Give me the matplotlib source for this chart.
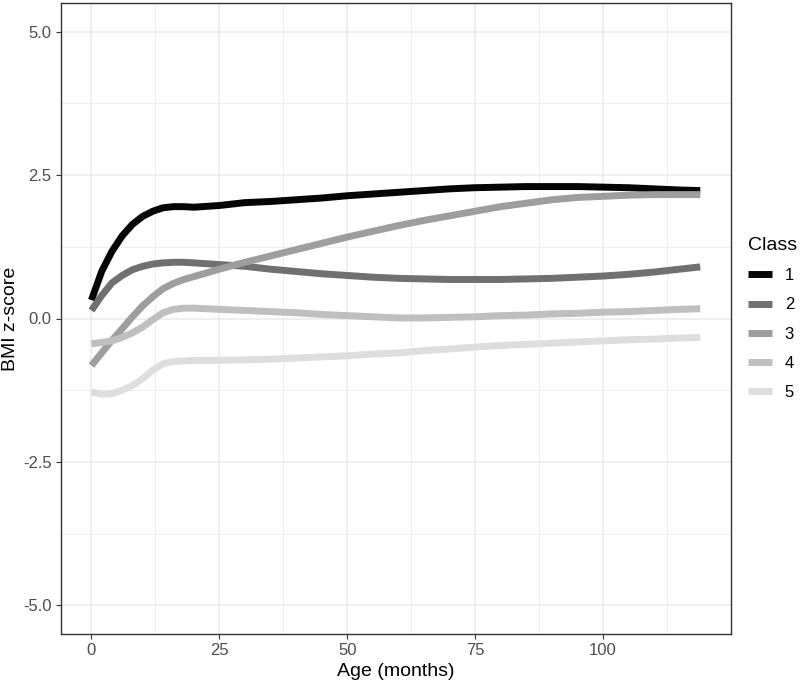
import numpy as np
import matplotlib
matplotlib.use("Agg")
import matplotlib.pyplot as plt

plt.rcParams["font.family"] = ["Liberation Sans", "DejaVu Sans"]

# Trajectory data (BMI z-score by age, 5 latent classes)
age = [0, 2, 4, 6, 8, 10, 12, 14, 16, 18, 20, 25, 30, 35, 40, 45, 50, 55, 60,
       65, 70, 75, 80, 85, 90, 95, 100, 105, 110, 115, 119]

class_1 = [0.32, 0.82, 1.17, 1.44, 1.64, 1.78, 1.87, 1.93, 1.95, 1.95, 1.94, 1.97,
           2.02, 2.04, 2.07, 2.10, 2.14, 2.17, 2.20, 2.23, 2.26, 2.28, 2.29, 2.30,
           2.30, 2.30, 2.29, 2.28, 2.26, 2.24, 2.23]
class_2 = [0.14, 0.40, 0.62, 0.75, 0.85, 0.91, 0.95, 0.97, 0.98, 0.98, 0.97, 0.94,
           0.91, 0.86, 0.82, 0.78, 0.75, 0.72, 0.70, 0.69, 0.68, 0.68, 0.68, 0.69,
           0.70, 0.72, 0.74, 0.77, 0.81, 0.86, 0.90]
class_3 = [-0.82, -0.60, -0.38, -0.18, 0.03, 0.22, 0.38, 0.52, 0.61, 0.68, 0.73, 0.86,
           0.98, 1.09, 1.20, 1.31, 1.42, 1.52, 1.62, 1.71, 1.79, 1.87, 1.95, 2.01,
           2.07, 2.11, 2.13, 2.15, 2.16, 2.16, 2.16]
class_4 = [-0.44, -0.42, -0.39, -0.33, -0.25, -0.15, -0.02, 0.10, 0.16, 0.18, 0.18, 0.16,
           0.14, 0.12, 0.10, 0.07, 0.05, 0.03, 0.01, 0.01, 0.02, 0.03, 0.05, 0.06,
           0.08, 0.09, 0.11, 0.12, 0.14, 0.16, 0.17]
class_5 = [-1.28, -1.32, -1.31, -1.25, -1.17, -1.05, -0.90, -0.79, -0.75, -0.74, -0.73, -0.73,
           -0.72, -0.71, -0.69, -0.67, -0.65, -0.62, -0.60, -0.56, -0.53, -0.50, -0.47, -0.45,
           -0.43, -0.41, -0.39, -0.37, -0.36, -0.34, -0.33]

class_labels = ["1", "2", "3", "4", "5"]
class_colors = ["#050505", "#707070", "#9e9e9e", "#bfbfbf", "#dedede"]

x_ticks = [0, 25, 50, 75, 100]
y_ticks = [-5.0, -2.5, 0.0, 2.5, 5.0]

fig = plt.figure(figsize=(8.02, 6.86), dpi=100)
ax = fig.add_axes([61 / 802, (686 - 634) / 686, (730.7 - 61) / 802, (634 - 3) / 686])

series = [class_1, class_2, class_3, class_4, class_5]
for vals, lab, col in zip(series, class_labels, class_colors):
    ax.plot(age, vals, color=col, lw=5.0, solid_capstyle="butt",
            solid_joinstyle="round", label=lab)

ax.set_xlim(-5.95, 124.95)
ax.set_ylim(-5.5, 5.5)
ax.set_xticks(x_ticks)
ax.set_yticks(y_ticks)
ax.set_yticklabels([f"{v:.1f}" for v in y_ticks])
ax.set_xticks([12.5, 37.5, 62.5, 87.5, 112.5], minor=True)
ax.set_yticks([-3.75, -1.25, 1.25, 3.75], minor=True)
ax.grid(which="major", color="#ebebeb", lw=1.1, zorder=0)
ax.grid(which="minor", color="#ebebeb", lw=0.6, zorder=0)
ax.set_axisbelow(True)
ax.tick_params(which="major", length=3.8, width=0.8, color="#333333",
               labelsize=12, labelcolor="#4d4d4d", pad=3)
ax.tick_params(which="minor", length=0)
for sp in ax.spines.values():
    sp.set_color("#333333")
    sp.set_linewidth(1.0)

ax.set_xlabel("Age (months)", fontsize=14, labelpad=3)
ax.set_ylabel("BMI z-score", fontsize=14, labelpad=2.5)

leg = ax.legend(title="Class", loc="center left", bbox_to_anchor=(1.026, 0.5),
                frameon=False, fontsize=12, title_fontsize=14,
                handlelength=1.45, labelspacing=0.85, handletextpad=0.75,
                borderaxespad=0, borderpad=0)
leg._legend_box.align = "left"

fig.savefig("out.png", dpi=100)
